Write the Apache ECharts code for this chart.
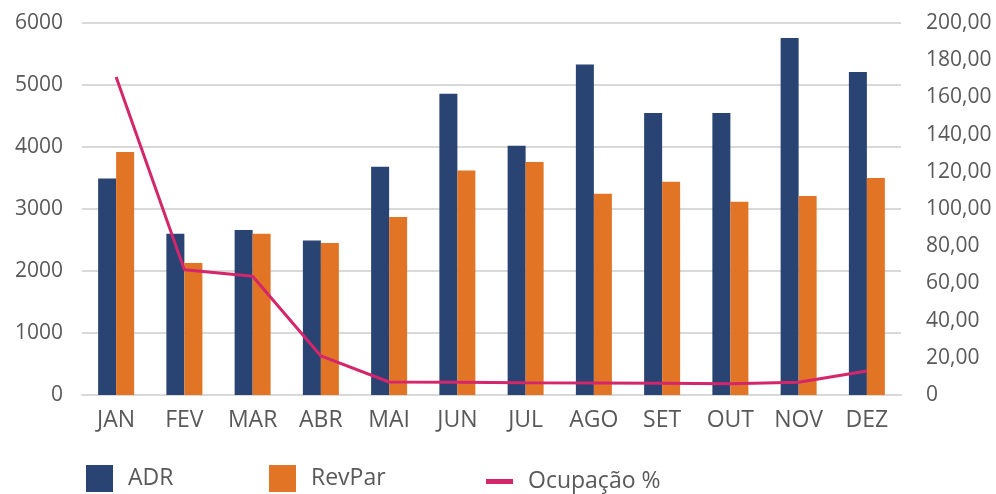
<!DOCTYPE html>
<html lang="pt">
<head>
    <meta charset="UTF-8">
    <title>ADR / RevPar / Ocupação</title>
    <style>
        html, body { margin: 0; padding: 0; background: #fff; }
    </style>
</head>
<body>
<div id="main" style="width: 996px;height:494px;"></div>
<script src="https://cdn.jsdelivr.net/npm/echarts@6/dist/echarts.min.js"></script>
<script>
    // dados
    var meses = ['JAN', 'FEV', 'MAR', 'ABR', 'MAI', 'JUN', 'JUL', 'AGO', 'SET', 'OUT', 'NOV', 'DEZ'];
    var adr = [3490, 2600, 2660, 2490, 3680, 4860, 4020, 5330, 4550, 4550, 5760, 5210];
    var revpar = [3920, 2130, 2600, 2450, 2870, 3620, 3760, 3245, 3440, 3115, 3210, 3500];
    var ocupacao = [171, 67.4, 63.8, 21, 7, 6.8, 6.6, 6.5, 6.3, 6.1, 6.8, 12.9];

    var corTexto = '#595959';
    var fonte = '"Open Sans", sans-serif';

    var myChart = echarts.init(document.getElementById('main'));

    var option = {
        animation: false,
        textStyle: { fontFamily: fonte },
        grid: { left: 82, right: 95, top: 23, bottom: 99, containLabel: false },
        // uma legenda por item para posicionar como no original
        legend: [
            {
                data: ['ADR'], left: 86, top: 465, padding: 0,
                itemWidth: 27, itemHeight: 27, icon: 'rect',
                textStyle: { color: corTexto, fontSize: 23, fontFamily: fonte, padding: [6, 0, 0, 10] }
            },
            {
                data: ['RevPar'], left: 269, top: 465, padding: 0,
                itemWidth: 27, itemHeight: 27, icon: 'rect',
                textStyle: { color: corTexto, fontSize: 23, fontFamily: fonte, padding: [6, 0, 0, 10] }
            },
            {
                data: ['Ocupação %'], left: 486, top: 470, padding: 0,
                itemWidth: 27, itemHeight: 5, icon: 'rect',
                textStyle: { color: corTexto, fontSize: 23, fontFamily: fonte, padding: [2, 0, 0, 10] }
            }
        ],
        xAxis: {
            type: 'category',
            data: meses,
            axisLine: { lineStyle: { color: '#d9d9d9', width: 2 } },
            axisTick: { show: false },
            axisLabel: { color: corTexto, fontSize: 23, margin: 14, fontFamily: fonte }
        },
        yAxis: [
            {
                type: 'value',
                min: 0, max: 6000, interval: 1000,
                axisLine: { show: false },
                axisTick: { show: false },
                axisLabel: {
                    color: corTexto, fontSize: 21, margin: 19, fontFamily: fonte,
                    formatter: function (v) { return String(v); }
                },
                splitLine: { lineStyle: { color: '#d9d9d9', width: 2 } }
            },
            {
                type: 'value',
                min: 0, max: 200, interval: 20,
                axisLine: { show: false },
                axisTick: { show: false },
                splitLine: { show: false },
                axisLabel: {
                    color: corTexto, fontSize: 21, margin: 25, fontFamily: fonte,
                    formatter: function (v) {
                        return v === 0 ? '0' : v.toFixed(2).replace('.', ',');
                    }
                }
            }
        ],
        series: [
            {
                name: 'ADR',
                type: 'bar',
                barWidth: 18,
                barGap: '0%',
                itemStyle: { color: '#294372' },
                data: adr
            },
            {
                name: 'RevPar',
                type: 'bar',
                barWidth: 18,
                barGap: '0%',
                itemStyle: { color: '#e27426' },
                data: revpar
            },
            {
                name: 'Ocupação %',
                type: 'line',
                yAxisIndex: 1,
                symbol: 'none',
                itemStyle: { color: '#d4266a' },
                lineStyle: { color: '#d4266a', width: 3 },
                data: ocupacao
            }
        ]
    };
    myChart.setOption(option);
</script>
</body>
</html>
